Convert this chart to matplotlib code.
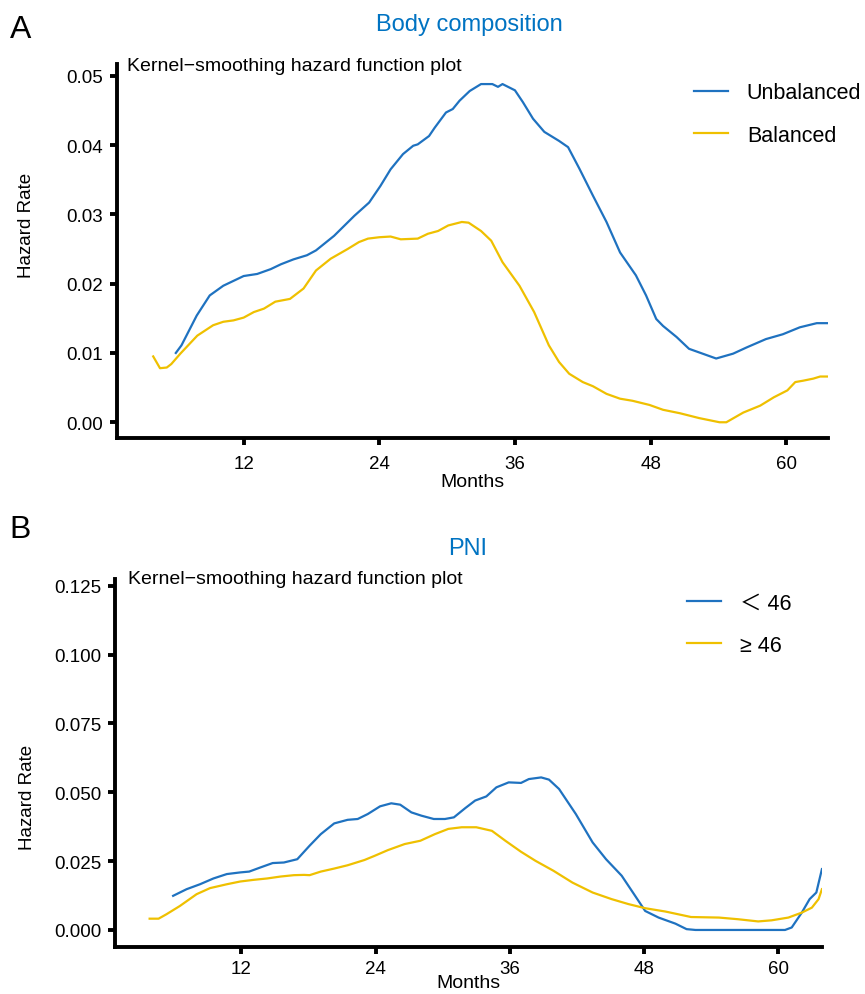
import matplotlib
matplotlib.use("Agg")
import matplotlib.pyplot as plt

plt.rcParams["font.family"] = ["Liberation Sans", "DejaVu Sans", "Noto Sans CJK SC"]

BLUE = "#1f72c0"
GOLD = "#EFC000"
TITLE_BLUE = "#0073C2"

# Panel A: body composition
a_unbal_month = [6.0, 6.5, 7.85, 9.0, 10.2, 11.1, 12.0, 13.2, 14.4, 15.3, 16.4, 17.6, 18.4,
                 20.0, 21.8, 23.1, 24.1, 25.0, 26.1, 27.0, 27.4, 28.4, 28.9, 29.9, 30.5, 31.1,
                 32.0, 33.0, 34.0, 34.5, 34.9, 36.0, 36.7, 37.6, 38.6, 39.9, 40.7, 41.7, 42.9,
                 44.1, 45.3, 46.7, 47.6, 48.5, 49.1, 50.3, 51.4, 52.6, 53.8, 55.3, 56.5, 58.2,
                 59.7, 61.2, 62.7, 63.7]
a_unbal_rate = [0.0100, 0.0111, 0.0154, 0.0183, 0.0197, 0.0204, 0.0211, 0.0214, 0.0221, 0.0228,
                0.0235, 0.0241, 0.0248, 0.0269, 0.0298, 0.0317, 0.0341, 0.0365, 0.0387, 0.0399,
                0.0401, 0.0413, 0.0425, 0.0447, 0.0452, 0.0464, 0.0478, 0.0488, 0.0488, 0.0484,
                0.0488, 0.0479, 0.0462, 0.0438, 0.0419, 0.0406, 0.0397, 0.0366, 0.0327, 0.0289,
                0.0245, 0.0212, 0.0183, 0.0149, 0.0139, 0.0123, 0.0106, 0.0099, 0.0092, 0.0099,
                0.0108, 0.0120, 0.0127, 0.0137, 0.0143, 0.0143]
a_bal_month = [4.0, 4.6, 5.2, 5.6, 6.4, 7.9, 9.3, 10.2, 11.1, 12.0, 12.9, 13.8, 14.8, 16.1,
               17.3, 18.4, 19.7, 21.2, 22.2, 23.0, 24.0, 25.0, 25.9, 27.4, 28.3, 29.2, 30.1,
               31.3, 31.9, 33.0, 33.9, 34.9, 36.4, 37.7, 39.0, 39.9, 40.8, 42.0, 42.9, 44.1,
               45.3, 46.4, 47.9, 49.1, 50.6, 52.3, 54.1, 54.7, 56.2, 57.7, 58.9, 60.1, 60.8,
               61.5, 62.4, 63.0, 63.7]
a_bal_rate = [0.0095, 0.0078, 0.0079, 0.0084, 0.0099, 0.0125, 0.0140, 0.0145, 0.0147, 0.0151,
              0.0159, 0.0164, 0.0174, 0.0178, 0.0193, 0.0219, 0.0236, 0.0250, 0.0260, 0.0265,
              0.0267, 0.0268, 0.0264, 0.0265, 0.0272, 0.0276, 0.0284, 0.0289, 0.0288, 0.0276,
              0.0262, 0.0231, 0.0197, 0.0159, 0.0111, 0.0087, 0.0070, 0.0058, 0.0052, 0.0041,
              0.0034, 0.0031, 0.0025, 0.0018, 0.0013, 0.0006, 0.0000, 0.0000, 0.0014, 0.0024,
              0.0036, 0.0046, 0.0058, 0.0060, 0.0063, 0.0066, 0.0066]

# Panel B: PNI
b_low_month = [5.9, 7.1, 8.3, 9.5, 10.7, 11.9, 12.7, 13.7, 14.8, 15.8, 17.0, 18.1, 19.1, 20.3,
               21.5, 22.4, 23.3, 24.4, 25.4, 26.2, 27.2, 28.1, 29.2, 30.2, 31.0, 32.0, 32.9,
               33.9, 34.8, 35.9, 37.0, 37.7, 38.8, 39.5, 40.4, 41.9, 43.4, 44.6, 46.0, 47.2,
               48.1, 49.3, 50.8, 51.8, 52.6, 60.6, 61.2, 62.1, 62.8, 63.4, 63.9]
b_low_rate = [0.0124, 0.0148, 0.0166, 0.0187, 0.0203, 0.0209, 0.0212, 0.0227, 0.0243, 0.0245,
              0.0257, 0.0306, 0.0348, 0.0387, 0.0400, 0.0403, 0.0421, 0.0449, 0.0460, 0.0455,
              0.0427, 0.0415, 0.0403, 0.0403, 0.0409, 0.0442, 0.0470, 0.0485, 0.0518, 0.0536,
              0.0534, 0.0548, 0.0554, 0.0546, 0.0512, 0.0421, 0.0318, 0.0257, 0.0197, 0.0124,
              0.0069, 0.0045, 0.0023, 0.0003, 0.0000, 0.0000, 0.0009, 0.0063, 0.0112, 0.0136,
              0.0221]
b_high_month = [3.8, 4.6, 5.3, 6.5, 8.0, 9.2, 10.7, 11.9, 13.1, 14.3, 15.5, 16.7, 17.6, 18.1,
                19.1, 20.3, 21.5, 23.0, 23.9, 25.1, 26.6, 28.0, 29.3, 30.5, 31.7, 33.0, 34.4,
                35.6, 37.0, 38.3, 39.9, 41.6, 43.4, 45.1, 46.6, 48.1, 49.9, 52.2, 54.7, 56.4,
                58.2, 59.4, 60.9, 62.1, 63.0, 63.6, 63.9]
b_high_rate = [0.0041, 0.0041, 0.0057, 0.0087, 0.0130, 0.0152, 0.0166, 0.0176, 0.0182, 0.0187,
               0.0194, 0.0199, 0.0200, 0.0199, 0.0212, 0.0223, 0.0235, 0.0254, 0.0269, 0.0290,
               0.0312, 0.0324, 0.0348, 0.0367, 0.0373, 0.0373, 0.0360, 0.0324, 0.0284, 0.0251,
               0.0215, 0.0172, 0.0136, 0.0112, 0.0094, 0.0079, 0.0067, 0.0047, 0.0045, 0.0039,
               0.0031, 0.0035, 0.0045, 0.0063, 0.0081, 0.0112, 0.0148]

month_ticks = [12, 24, 36, 48, 60]
a_yticks = [0.00, 0.01, 0.02, 0.03, 0.04, 0.05]
b_yticks = [0.000, 0.025, 0.050, 0.075, 0.100, 0.125]

fig = plt.figure(figsize=(8.65, 9.95), dpi=100)


def style_axes(ax, yticks, fmt, ylim, xlim, ylab_pos, xpad, xlabpad):
    ax.set_xlim(*xlim)
    ax.set_ylim(*ylim)
    ax.set_xticks(month_ticks)
    ax.set_yticks(yticks)
    ax.set_yticklabels([fmt.format(v) for v in yticks])
    for s in ("top", "right"):
        ax.spines[s].set_visible(False)
    for s in ("left", "bottom"):
        ax.spines[s].set_linewidth(2.8)
        ax.spines[s].set_color("black")
    ax.tick_params(axis="both", width=2.8, length=5, labelsize=13.5, colors="black")
    ax.tick_params(axis="x", pad=xpad)
    ax.tick_params(axis="y", pad=5)
    ax.set_xlabel("Months", fontsize=14, labelpad=xlabpad)
    ax.set_ylabel("Hazard Rate", fontsize=13.5)
    ax.yaxis.set_label_coords(*ylab_pos)


def add_legend(ax, labels, anchor):
    ax.legend(labels, loc="upper left", bbox_to_anchor=anchor, frameon=False,
              fontsize=15.5, handlelength=1.58, handletextpad=0.88, labelspacing=1.0)


# Panel A
axA = fig.add_axes([0.1353, 0.5588, 0.822, 0.3759])
axA.plot(a_unbal_month, a_unbal_rate, color=BLUE, lw=1.6)
axA.plot(a_bal_month, a_bal_rate, color=GOLD, lw=1.6)
style_axes(axA, a_yticks, "{:.2f}", (-0.00227, 0.0517), (0.8, 63.7), (-0.115, 0.57), 7, 1)
add_legend(axA, ["Unbalanced", "Balanced"], (0.784, 1.003))
axA.text(0.014, 0.997, "Kernel\u2212smoothing hazard function plot", transform=axA.transAxes,
         fontsize=14, va="center", ha="left")

# Panel B
axB = fig.add_axes([0.1329, 0.0472, 0.8173, 0.3700])
axB.plot(b_low_month, b_low_rate, color=BLUE, lw=1.6)
axB.plot(b_high_month, b_high_rate, color=GOLD, lw=1.6)
style_axes(axB, b_yticks, "{:.3f}", (-0.0062, 0.1275), (0.7, 63.9), (-0.112, 0.408), 4, -2)
add_legend(axB, ["\uff1c 46", "\u2265 46"], (0.7816, 1.016))
axB.text(0.018, 1.0, "Kernel\u2212smoothing hazard function plot", transform=axB.transAxes,
         fontsize=14, va="center", ha="left")

fig.text(0.543, 0.975, "Body composition", color=TITLE_BLUE, fontsize=17, ha="center", va="center")
fig.text(0.541, 0.448, "PNI", color=TITLE_BLUE, fontsize=17, ha="center", va="center")
fig.text(0.011, 0.970, "A", fontsize=23, ha="left", va="center")
fig.text(0.011, 0.467, "B", fontsize=23, ha="left", va="center")

fig.savefig("out.png", dpi=100)
